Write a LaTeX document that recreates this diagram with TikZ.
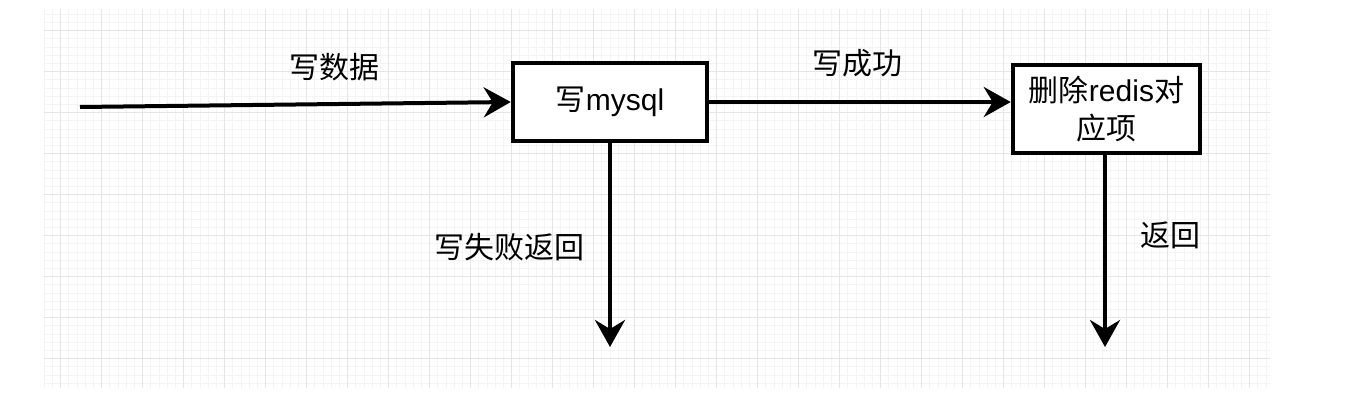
\documentclass[tikz,border=0pt]{standalone}
\usepackage{fontspec}
\setmainfont{Liberation Sans}
\newfontfamily\cjk{Noto Sans CJK SC}
\usetikzlibrary{arrows.meta}
\definecolor{minorgrid}{gray}{0.955}
\definecolor{majorgrid}{gray}{0.9}
\tikzset{
  box/.style={draw=black, line width=4.5pt, fill=white, align=center, inner sep=0pt,
    font=\fontsize{30}{38}\selectfont},
  lbl/.style={inner sep=0pt, font=\fontsize{30}{38}\selectfont\cjk},
  conn/.style={line width=4pt, -{Stealth[length=27pt,width=30pt,inset=9pt]}},
}
\begin{document}
\begin{tikzpicture}[x=1pt,y=-1pt]
\useasboundingbox (0,0) rectangle (1350,402);
\fill[white] (0,0) rectangle (1350,402);
% grid
\begin{scope}
\clip (44,9) rectangle (1270,387);
\foreach \i in {-3,...,150} {
  \draw[minorgrid, line width=1pt] ({60.7+8.2*\i},0) -- ({60.7+8.2*\i},402);
}
\foreach \i in {-4,...,48} {
  \draw[minorgrid, line width=1pt] (0,{30.7+8.2*\i}) -- (1350,{30.7+8.2*\i});
}
\foreach \i in {-1,...,30} {
  \draw[majorgrid, line width=1.5pt] ({60.7+41*\i},0) -- ({60.7+41*\i},402);
}
\foreach \i in {-1,...,9} {
  \draw[majorgrid, line width=1.5pt] (0,{30.7+41*\i}) -- (1350,{30.7+41*\i});
}
\end{scope}
% nodes
\node[box, minimum width=194pt, minimum height=78pt] (mysql) at (610,102) {{\cjk 写}mysql};
\node[box, minimum width=187pt, minimum height=88pt] (redis) at (1106.5,109)
  {{\cjk 删除}redis{\cjk 对}\\{\cjk 应项}};
\coordinate (start) at (80,107);
\coordinate (end3) at (610,347);
\coordinate (end4) at (1105,347);
% connectors
\draw[conn] (start) -- (mysql.west);
\draw[conn] (mysql.east) -- (mysql.east -| redis.west);
\draw[conn] (mysql.south) -- (end3);
\draw[conn] (redis.south -| end4) -- (end4);
% labels
\node[lbl] (l1) at (334,67) {写数据};
\node[lbl] (l2) at (857,63) {写成功};
\node[lbl] (l3) at (509,247) {写失败返回};
\node[lbl] (l4) at (1170,235) {返回};
\end{tikzpicture}
\end{document}
